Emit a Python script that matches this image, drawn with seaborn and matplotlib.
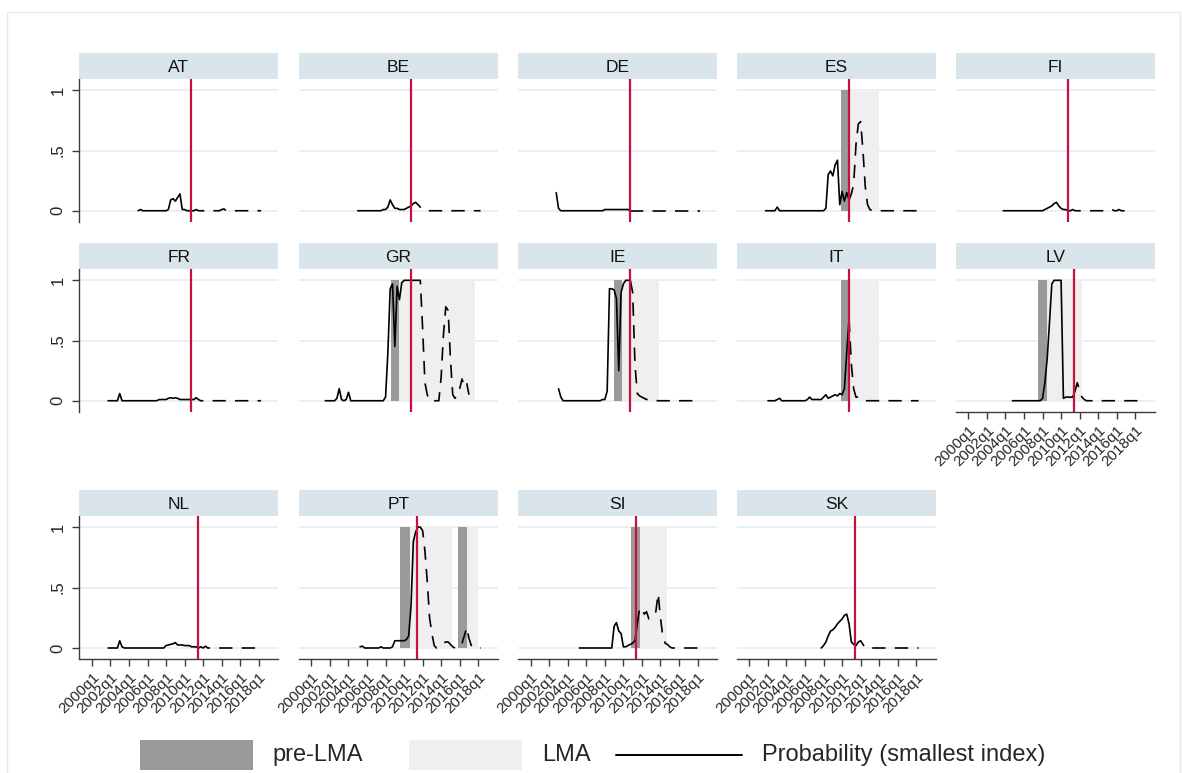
import numpy as np
import pandas as pd
import matplotlib
matplotlib.use("Agg")
import matplotlib.pyplot as plt
import seaborn as sns
from matplotlib.patches import Rectangle
from matplotlib.lines import Line2D

# ---------------- data ----------------
countries = ["AT", "BE", "DE", "ES", "FI", "FR", "GR", "IE", "IT", "LV", "NL", "PT", "SI", "SK"]

start_AT = 2005.0
prob_AT = [0.00, 0.01, 0.00, 0.00,  0.00, 0.00, 0.00, 0.00,  0.00, 0.00, 0.00, 0.00,
           0.00, 0.01, 0.09, 0.10,  0.08, 0.11, 0.14, 0.01,  0.01, 0.00, 0.00, 0.00,
           0.00, 0.01, 0.00, 0.00,  0.00, 0.00, 0.00, 0.00,  0.00, 0.00, 0.00, 0.00,
           0.01, 0.015, 0.00, 0.00, 0.00, 0.00, 0.00, 0.00,  0.00, 0.00, 0.00, 0.00,
           0.00, 0.00, 0.00, 0.00,  0.00, 0.00]

start_BE = 2005.0
prob_BE = [0.00, 0.00, 0.00, 0.00,  0.00, 0.00, 0.00, 0.00,  0.00, 0.00, 0.00, 0.01,
           0.01, 0.03, 0.09, 0.05,  0.02, 0.02, 0.01, 0.01,  0.01, 0.02, 0.03, 0.04,
           0.06, 0.07, 0.05, 0.03,  0.01, 0.00, 0.00, 0.00,  0.00, 0.00, 0.00, 0.00,
           0.00, 0.00, 0.00, 0.00,  0.00, 0.00, 0.00, 0.00,  0.00, 0.00, 0.00, 0.00,
           0.00, 0.00, 0.00, 0.00,  0.00, 0.00]

start_DE = 2002.75
prob_DE = [0.15,
           0.02, 0.00, 0.00, 0.00,  0.00, 0.00, 0.00, 0.00,  0.00, 0.00, 0.00, 0.00,
           0.00, 0.00, 0.00, 0.00,  0.00, 0.00, 0.00, 0.00,  0.01, 0.01, 0.01, 0.01,
           0.01, 0.01, 0.01, 0.01,  0.01, 0.01, 0.01, 0.00,  0.00, 0.00, 0.00, 0.00,
           0.00, 0.00, 0.00, 0.00,  0.00, 0.00, 0.00, 0.00,  0.00, 0.00, 0.00, 0.00,
           0.00, 0.00, 0.00, 0.00,  0.00, 0.00, 0.00, 0.00,  0.00, 0.00, 0.00, 0.00,
           0.00, 0.00]

start_ES = 2001.75
prob_ES = [0.00,
           0.00, 0.00, 0.00, 0.00,  0.03, 0.00, 0.00, 0.00,  0.00, 0.00, 0.00, 0.00,
           0.00, 0.00, 0.00, 0.00,  0.00, 0.00, 0.00, 0.00,  0.00, 0.00, 0.00, 0.00,
           0.00, 0.02, 0.30, 0.33,  0.29, 0.38, 0.42, 0.05,  0.16, 0.08, 0.15, 0.09,
           0.14, 0.22, 0.55, 0.72,  0.74, 0.50, 0.20, 0.05,  0.01, 0.00, 0.00, 0.00,
           0.00, 0.00, 0.00, 0.00,  0.00, 0.00, 0.00, 0.00,  0.00, 0.00, 0.00, 0.00,
           0.00, 0.00, 0.00, 0.00,  0.00, 0.00]

start_FI = 2003.75
prob_FI = [0.00,
           0.00, 0.00, 0.00, 0.00,  0.00, 0.00, 0.00, 0.00,  0.00, 0.00, 0.00, 0.00,
           0.00, 0.00, 0.00, 0.00,  0.00, 0.01, 0.02, 0.03,  0.04, 0.06, 0.07, 0.04,
           0.02, 0.01, 0.01, 0.00,  0.00, 0.01, 0.00, 0.00,  0.00, 0.00, 0.00, 0.00,
           0.00, 0.00, 0.00, 0.00,  0.00, 0.00, 0.00, 0.00,  0.00, 0.00, 0.01, 0.00,
           0.00, 0.01, 0.00, 0.00,  0.00, 0.00]

start_FR = 2001.75
prob_FR = [0.00,
           0.00, 0.00, 0.00, 0.00,  0.06, 0.00, 0.00, 0.00,  0.00, 0.00, 0.00, 0.00,
           0.00, 0.00, 0.00, 0.00,  0.00, 0.00, 0.00, 0.00,  0.00, 0.01, 0.01, 0.01,
           0.01, 0.02, 0.025, 0.02, 0.025, 0.02, 0.01, 0.01, 0.01, 0.01, 0.01, 0.01,
           0.01, 0.025, 0.01, 0.00, 0.00, 0.00, 0.00, 0.00,  0.00, 0.00, 0.00, 0.00,
           0.00, 0.00, 0.00, 0.00,  0.00, 0.00, 0.00, 0.00,  0.00, 0.00, 0.00, 0.00,
           0.00, 0.00, 0.00, 0.00,  0.00, 0.00]

start_GR = 2001.5
prob_GR = [0.00, 0.00,
           0.00, 0.00, 0.00, 0.02,  0.10, 0.01, 0.00, 0.01,  0.07, 0.00, 0.00, 0.00,
           0.00, 0.00, 0.00, 0.00,  0.00, 0.00, 0.00, 0.00,  0.00, 0.00, 0.00, 0.00,
           0.03, 0.40, 0.93, 0.97,  0.45, 0.95, 0.84, 0.98,  1.00, 1.00, 1.00, 1.00,
           1.00, 1.00, 1.00, 1.00,  0.60, 0.15, 0.05, 0.00,  0.00, 0.00, 0.00, 0.00,
           0.20, 0.55, 0.78, 0.75,  0.35, 0.05, 0.02, 0.05,  0.10, 0.18, 0.12, 0.15,
           0.05]

start_IE = 2003.0
prob_IE = [0.10, 0.03, 0.00, 0.00,  0.00, 0.00, 0.00, 0.00,  0.00, 0.00, 0.00, 0.00,
           0.00, 0.00, 0.00, 0.00,  0.00, 0.00, 0.00, 0.01,  0.01, 0.08, 0.93, 0.93,
           0.92, 0.85, 0.25, 0.90,  0.97, 1.00, 1.00, 1.00,  0.90, 0.30, 0.06, 0.04,
           0.03, 0.02, 0.01, 0.01,  0.00, 0.00, 0.00, 0.00,  0.00, 0.00, 0.00, 0.00,
           0.00, 0.00, 0.00, 0.00,  0.00, 0.00, 0.00, 0.00,  0.00, 0.00, 0.00, 0.00,
           0.00, 0.00]

start_IT = 2002.0
prob_IT = [0.00, 0.00, 0.00, 0.00,  0.01, 0.02, 0.00, 0.00,  0.00, 0.00, 0.00, 0.00,
           0.00, 0.00, 0.00, 0.00,  0.00, 0.01, 0.03, 0.01,  0.01, 0.01, 0.01, 0.01,
           0.03, 0.05, 0.02, 0.03,  0.04, 0.05, 0.04, 0.06,  0.05, 0.10, 0.40, 0.68,
           0.30, 0.10, 0.03, 0.03,  0.02, 0.00, 0.00, 0.00,  0.00, 0.00, 0.00, 0.00,
           0.00, 0.00, 0.00, 0.00,  0.00, 0.00, 0.00, 0.00,  0.00, 0.00, 0.00, 0.00,
           0.00, 0.00, 0.00, 0.00,  0.00, 0.00]

start_LV = 2004.75
prob_LV = [0.00,
           0.00, 0.00, 0.00, 0.00,  0.00, 0.00, 0.00, 0.00,  0.00, 0.00, 0.00, 0.00,
           0.02, 0.15, 0.35, 0.65,  0.97, 1.00, 1.00, 1.00,  1.00, 0.02, 0.03, 0.03,
           0.03, 0.03, 0.08, 0.15,  0.08, 0.03, 0.01, 0.00,  0.00, 0.00, 0.00, 0.00,
           0.00, 0.00, 0.00, 0.00,  0.00, 0.00, 0.00, 0.00,  0.00, 0.00, 0.00, 0.00,
           0.00, 0.00, 0.00, 0.00,  0.00, 0.00]

start_NL = 2001.75
prob_NL = [0.00,
           0.00, 0.00, 0.00, 0.00,  0.06, 0.01, 0.00, 0.00,  0.00, 0.00, 0.00, 0.00,
           0.00, 0.00, 0.00, 0.00,  0.00, 0.00, 0.00, 0.00,  0.00, 0.00, 0.00, 0.00,
           0.02, 0.025, 0.03, 0.035, 0.045, 0.025, 0.025, 0.025, 0.02, 0.02, 0.02, 0.01,
           0.01, 0.01, 0.00, 0.01,  0.00, 0.015, 0.00, 0.00, 0.00, 0.00, 0.00, 0.00,
           0.00, 0.00, 0.00, 0.00,  0.00, 0.00, 0.00, 0.00,  0.00, 0.00, 0.00, 0.00,
           0.00, 0.00, 0.00, 0.00,  0.00, 0.00]

start_PT = 2005.25
prob_PT = [0.01, 0.015, 0.00,
           0.00, 0.00, 0.00, 0.00,  0.00, 0.00, 0.01, 0.00,  0.00, 0.00, 0.00, 0.01,
           0.06, 0.06, 0.06, 0.06,  0.06, 0.07, 0.10, 0.35,  0.88, 0.96, 1.00, 1.00,
           0.97, 0.80, 0.55, 0.25,  0.12, 0.02, 0.00, 0.01,  0.03, 0.04, 0.05, 0.05,
           0.03, 0.01, 0.00, 0.00,  0.01, 0.04, 0.10, 0.17,  0.08, 0.02, 0.00, 0.00,
           0.00, 0.00]

start_SI = 2005.25
prob_SI = [0.00, 0.00, 0.00,
           0.00, 0.00, 0.00, 0.00,  0.00, 0.00, 0.00, 0.00,  0.00, 0.00, 0.00, 0.00,
           0.18, 0.21, 0.14, 0.12,  0.01, 0.01, 0.02, 0.03,  0.04, 0.06, 0.20, 0.33,
           0.33, 0.28, 0.30, 0.24,  0.25, 0.27, 0.30, 0.45,  0.25, 0.10, 0.04, 0.03,
           0.01, 0.00, 0.00, 0.00,  0.00, 0.00, 0.00, 0.00,  0.00, 0.00, 0.00, 0.00,
           0.00, 0.00]

start_SK = 2007.75
prob_SK = [0.00,
           0.02, 0.05, 0.10, 0.14,  0.15, 0.17, 0.20, 0.22,  0.24, 0.27, 0.28, 0.20,
           0.05, 0.03, 0.02, 0.05,  0.06, 0.03, 0.00, 0.00,  0.00, 0.00, 0.00, 0.00,
           0.00, 0.00, 0.00, 0.00,  0.00, 0.00, 0.00, 0.00,  0.00, 0.00, 0.00, 0.00,
           0.00, 0.00, 0.00, 0.00,  0.00, 0.00]

# vertical red line (end of estimation sample)
cutoff_A = 2010.74
cutoff_B = 2011.40
cutoff_B_countries = ["LV", "NL", "PT", "SI", "SK"]

# shaded periods: (start, end)
pre_lma_ES = [(2009.87, 2010.74)]
lma_ES = [(2010.74, 2013.97)]
pre_lma_GR = [(2008.58, 2009.44)]
lma_GR = [(2009.44, 2017.64)]
pre_lma_IE = [(2008.98, 2009.87)]
lma_IE = [(2009.87, 2013.86)]
pre_lma_IT = [(2009.87, 2010.74)]
lma_IT = [(2010.74, 2013.97)]
pre_lma_LV = [(2007.47, 2008.44)]
lma_LV = [(2008.44, 2012.28)]
pre_lma_PT = [(2009.55, 2010.62), (2015.77, 2016.80)]
lma_PT = [(2010.62, 2015.12), (2016.80, 2018.00)]
pre_lma_SI = [(2010.78, 2011.78)]
lma_SI = [(2011.78, 2014.72)]

xtick_years = [2000, 2002, 2004, 2006, 2008, 2010, 2012, 2014, 2016, 2018]
xtick_labels = ["2000q1", "2002q1", "2004q1", "2006q1", "2008q1",
                "2010q1", "2012q1", "2014q1", "2016q1", "2018q1"]
ytick_vals = [0, 0.5, 1]
ytick_labels = ["0", ".5", "1"]
legend_labels = ["pre-LMA", "LMA", "Probability (smallest index)"]

# ---------------- assemble ----------------
g = globals()
series = {c: (g["start_" + c], g["prob_" + c]) for c in countries}
pre_lma = {c: g.get("pre_lma_" + c, []) for c in countries}
lma = {c: g.get("lma_" + c, []) for c in countries}

# ---------------- style ----------------
sns.set_theme(style="white")
plt.rcParams["font.family"] = ["Liberation Sans", "DejaVu Sans"]

W, H = 1182, 773
fig = plt.figure(figsize=(W / 100, H / 100), dpi=100)
fig.patch.set_facecolor("white")

STRIP = "#D9E5EB"
GRID = "#E8EFF1"
DARK = "#9A9A9A"
LIGHT = "#EFEFEF"
RED = "#C8103C"
AXC = "#3C3C3C"

col_left = [79.5, 299.0, 518.3, 737.0, 956.0]
col_w = 198.5
rows = [(53.0, 79.0, 221.7), (242.7, 269.0, 411.7), (490.0, 515.7, 659.0)]
bottom_panels = {"LV", "NL", "PT", "SI", "SK"}


def px_axes(left, top, width, height):
    return fig.add_axes([left / W, 1 - (top + height) / H, width / W, height / H])


# figure frame
fig.patches.append(Rectangle((7 / W, -0.05), (1180 - 7) / W, 1 - 12 / H + 0.05,
                             transform=fig.transFigure, fill=False,
                             edgecolor="#E3E9EC", lw=1.0, zorder=0))

for i, c in enumerate(countries):
    r, k = divmod(i, 5)
    s_top, p_top, p_bot = rows[r]
    ax = px_axes(col_left[k], p_top, col_w, p_bot - p_top)
    sax = px_axes(col_left[k], s_top, col_w, p_top - s_top)

    # strip
    sax.set_facecolor(STRIP)
    sax.set_xticks([]); sax.set_yticks([])
    for sp in sax.spines.values():
        sp.set_visible(False)
    sax.text(0.5, 0.45, c, ha="center", va="center", fontsize=12.5, color="#111111",
             transform=sax.transAxes)

    ax.set_facecolor("white")
    ax.set_xlim(1998.66, 2020.08)
    ax.set_ylim(-0.091, 1.094)

    for y in ytick_vals:
        ax.axhline(y, color=GRID, lw=1.3, zorder=0.5)

    for a, b in lma[c]:
        ax.fill_between([a, b], 0, 1, color=LIGHT, lw=0, zorder=1)
    for a, b in pre_lma[c]:
        ax.fill_between([a, b], 0, 1, color=DARK, lw=0, zorder=1.1)

    start, vals = series[c]
    t = start + 0.25 * np.arange(len(vals))
    df = pd.DataFrame({"t": t, "p": vals})
    cut = cutoff_B if c in cutoff_B_countries else cutoff_A
    idx = int(np.searchsorted(t, cut))
    solid = df.iloc[:idx + 1]
    dashed = df.iloc[idx:]
    sns.lineplot(data=solid, x="t", y="p", ax=ax, color="black", lw=1.2,
                 estimator=None, sort=False, legend=False, zorder=4)
    if len(dashed) > 1:
        sns.lineplot(data=dashed, x="t", y="p", ax=ax, color="black", lw=1.2,
                     estimator=None, sort=False, legend=False, zorder=4,
                     linestyle=(0, (8, 5.5)))

    ax.axvline(cut, color=RED, lw=1.6, zorder=5)

    ax.set_xlabel(""); ax.set_ylabel("")
    for sp in ax.spines.values():
        sp.set_visible(False)

    if k == 0:
        ax.spines["left"].set_visible(True)
        ax.spines["left"].set_color(AXC)
        ax.spines["left"].set_linewidth(1.0)
        ax.set_yticks(ytick_vals)
        ax.set_yticklabels(ytick_labels, rotation=90, va="center", fontsize=12)
        ax.tick_params(axis="y", direction="out", length=5, width=1, color=AXC,
                       pad=5, left=True, labelleft=True)
    else:
        ax.set_yticks([])

    if c in bottom_panels:
        ax.spines["bottom"].set_visible(True)
        ax.spines["bottom"].set_color(AXC)
        ax.spines["bottom"].set_linewidth(1.0)
        ax.set_xticks(xtick_years)
        ax.set_xticklabels(xtick_labels, rotation=45, ha="right",
                           rotation_mode="anchor", fontsize=11)
        ax.tick_params(axis="x", direction="out", length=5, width=1, color=AXC,
                       pad=3, bottom=True, labelbottom=True)
    else:
        ax.set_xticks([])

# ---------------- legend ----------------
def fx(x):
    return x / W


def fy(y):
    return 1 - y / H


fig.patches.append(Rectangle((fx(140), fy(770)), 113 / W, 30 / H,
                             transform=fig.transFigure, color=DARK, lw=0))
fig.text(fx(272), fy(755), legend_labels[0], fontsize=17, va="center", ha="left")
fig.patches.append(Rectangle((fx(409), fy(770)), 113 / W, 30 / H,
                             transform=fig.transFigure, color=LIGHT, lw=0))
fig.text(fx(542), fy(755), legend_labels[1], fontsize=17, va="center", ha="left")
fig.lines.append(Line2D([fx(616), fx(742)], [fy(755), fy(755)],
                        transform=fig.transFigure, color="black", lw=1.4))
fig.text(fx(762), fy(755), legend_labels[2], fontsize=17, va="center", ha="left")

fig.savefig("out.png", dpi=100)
